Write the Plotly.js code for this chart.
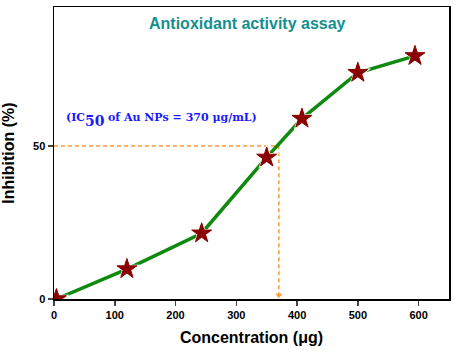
<!DOCTYPE html>
<html><head><meta charset="utf-8">
<script src="https://cdn.plot.ly/plotly-3.0.1.min.js"></script>
<style>body{margin:0;padding:0;background:#fff}#chart{width:457px;height:355px}</style>
</head><body><div id="chart"></div>
<script>
const concentration = [4, 120, 243, 350, 408, 500, 594];
const inhibition = [0, 9.8, 21.5, 46.3, 59, 74, 79.5];
const ic50X = 370;
const ic50Y = 50;
const xTicks = [0, 100, 200, 300, 400, 500, 600];
const yTicks = [0, 50];

const traces = [
  {x: [0, ic50X, ic50X], y: [ic50Y, ic50Y, 1.5], mode: 'lines',
   line: {color: '#ff9933', width: 1.5, dash: '4px,3px'}, hoverinfo: 'skip'},
  {x: [ic50X], y: [1.2], mode: 'markers',
   marker: {symbol: 'triangle-down', size: 6, color: '#ff9933'}, hoverinfo: 'skip'},
  {x: concentration, y: inhibition, mode: 'lines',
   line: {color: '#0f8a0f', width: 3.5}, hoverinfo: 'skip'},
  {x: concentration, y: inhibition, mode: 'markers',
   marker: {symbol: 'star', size: 20, color: '#ffffff', line: {width: 0}}, hoverinfo: 'skip'},
  {x: concentration, y: inhibition, mode: 'markers',
   marker: {symbol: 'star', size: 15, color: '#8b0000', line: {color: '#8b0000', width: 1}}}
];

const labelFont = {size: 11, color: '#1a1aff', family: 'DejaVu Serif, serif'};
const subFont = {size: 14, color: '#1a1aff', family: 'DejaVu Serif, serif'};
const lx = 52, ly = 59.3;
const layout = {
  width: 457, height: 355,
  margin: {l: 54, r: 8, t: 7, b: 56},
  paper_bgcolor: '#fff', plot_bgcolor: '#fff',
  showlegend: false,
  font: {family: 'Liberation Sans, Arial, sans-serif', color: '#000'},
  xaxis: {range: [0, 650], tickvals: xTicks, ticks: 'outside', ticklen: 5, tickwidth: 1.5,
    showgrid: false, zeroline: false, showline: true, linewidth: 1.5, linecolor: '#000', mirror: true,
    tickfont: {size: 11, family: 'Liberation Sans, Arial', weight: 'bold'},
    title: {text: '<b>Concentration (μg)</b>', font: {size: 16}, standoff: 12}},
  yaxis: {range: [0, 95.5], tickvals: yTicks, ticks: 'outside', ticklen: 5, tickwidth: 1.5,
    showgrid: false, zeroline: false, showline: true, linewidth: 1.5, linecolor: '#000', mirror: true,
    tickfont: {size: 11, family: 'Liberation Sans, Arial', weight: 'bold'},
    title: {text: '<b>Inhibition (%)</b>', font: {size: 16}, standoff: 14}},
  annotations: [
    {xref: 'paper', yref: 'paper', x: 0.49, y: 0.945, xanchor: 'center', yanchor: 'middle',
     text: '<b>Antioxidant activity assay</b>', showarrow: false,
     font: {size: 16, color: '#148f8f', family: 'Liberation Sans, Arial'}},
    {x: lx, y: ly, xanchor: 'right', yanchor: 'middle', showarrow: false,
     text: '<b>(IC</b>', font: labelFont, borderpad: 0},
    {x: lx, y: ly, xanchor: 'left', yanchor: 'middle', showarrow: false, yshift: -3, xshift: -2,
     text: '<b>50</b>', font: subFont, borderpad: 0},
    {x: lx, y: ly, xanchor: 'left', yanchor: 'middle', showarrow: false, xshift: 21,
     text: '<b>of Au NPs = 370 μg/mL)</b>', font: labelFont, borderpad: 0}
  ]
};
Plotly.newPlot('chart', traces, layout, {displayModeBar: false, staticPlot: true});
</script></body></html>
